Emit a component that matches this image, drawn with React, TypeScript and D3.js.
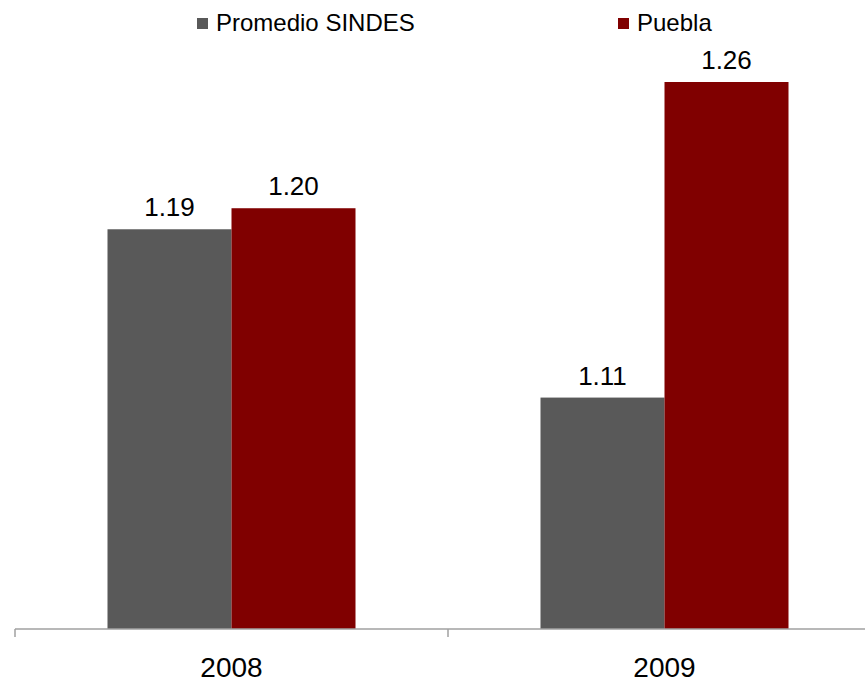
import React from "react";
import * as d3 from "d3";

const categories = ["2008", "2009"];
const seriesNames = ["Promedio SINDES", "Puebla"];
const seriesColors = ["#595959", "#800000"];
const promedioValues = [1.19, 1.11];
const pueblaValues = [1.2, 1.26];
const seriesValues = [promedioValues, pueblaValues];

const W = 865;
const H = 685;
const FONT = "'Liberation Sans', Arial, sans-serif";

export default function App() {
  const x0 = d3.scaleBand<string>().domain(categories).range([15, 881]).padding(0);
  const bw = x0.bandwidth();
  const groupW = 248;
  const x1 = d3
    .scaleBand<string>()
    .domain(seriesNames)
    .range([(bw - groupW) / 2, (bw + groupW) / 2])
    .padding(0);
  const y = d3.scaleLinear().domain([1.0, 1.26]).range([629, 82]);
  const baseY = y(1.0);

  const legendX = [197, 618];

  return (
    <svg
      width={W}
      height={H}
      style={{ position: "absolute", left: 0, top: 0, background: "#fff" }}
      fontFamily={FONT}
    >
      {/* legend */}
      {seriesNames.map((name, i) => (
        <g key={name}>
          <rect x={legendX[i]} y={18} width={11} height={11} fill={seriesColors[i]} />
          <text x={legendX[i] + 19} y={31} fontSize={24} fill="#000">
            {name}
          </text>
        </g>
      ))}

      {/* bars */}
      {categories.map((cat, ci) => (
        <g key={cat} transform={`translate(${x0(cat)},0)`}>
          {seriesNames.map((s, si) => {
            const v = seriesValues[si][ci];
            const bx = x1(s)!;
            const by = y(v);
            return (
              <g key={s}>
                <rect
                  x={bx}
                  y={by}
                  width={x1.bandwidth()}
                  height={baseY - by}
                  fill={seriesColors[si]}
                />
                <text
                  x={bx + x1.bandwidth() / 2}
                  y={by - 13}
                  textAnchor="middle"
                  fontSize={26}
                  fill="#000"
                >
                  {d3.format(".2f")(v)}
                </text>
              </g>
            );
          })}
          <text x={bw / 2} y={677} textAnchor="middle" fontSize={28} fill="#000">
            {cat}
          </text>
        </g>
      ))}

      {/* axis */}
      <line x1={15} x2={881} y1={baseY} y2={baseY} stroke="#a0a0a0" strokeWidth={1.5} />
      {[...categories.map((c) => x0(c)!), 881].map((tx, i) => (
        <line key={i} x1={tx} x2={tx} y1={baseY} y2={baseY + 8} stroke="#a0a0a0" strokeWidth={1.5} />
      ))}
    </svg>
  );
}
